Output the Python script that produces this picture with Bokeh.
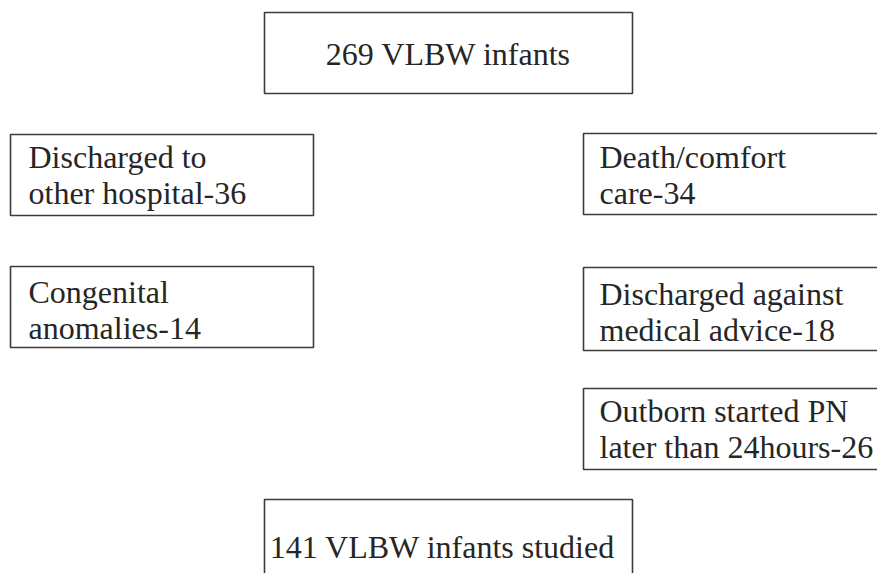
from bokeh.plotting import figure
from bokeh.models import Range1d
from bokeh.core.properties import value
from bokeh.embed import file_html
from bokeh.resources import INLINE

# ---- data ----
total_n = 269
total_label = "VLBW infants"
studied_n = 141
studied_label = "VLBW infants studied"
exclusion_line1 = ["Discharged to", "Congenital", "Death/comfort", "Discharged against", "Outborn started PN"]
exclusion_line2 = ["other hospital", "anomalies", "care", "medical advice", "later than 24hours"]
exclusion_counts = [36, 14, 34, 18, 26]

# ---- layout (page pixel coordinates) ----
main_box = dict(left=264, right=632, top=12, bottom=93)
final_box = dict(left=264, right=632, top=499, bottom=600)
excl_boxes = [
    dict(left=10, right=313, top=134, bottom=215),
    dict(left=10, right=313, top=266, bottom=347),
    dict(left=583, right=900, top=133, bottom=214),
    dict(left=583, right=900, top=267, bottom=350),
    dict(left=583, right=900, top=388, bottom=469),
]
text_pad = [18, 18, 16, 16, 16]
line_gap = 36
baseline_shift = -11
first_baselines = [167, 302, 167, 304, 421]

FONT = value("Liberation Serif")
FSIZE = "32px"
TCOL = "#262626"
LCOL = "#3c3c3c"

W, H = 877, 573
p = figure(width=W, height=H, x_range=Range1d(0, W), y_range=Range1d(H, 0),
           output_backend="svg", toolbar_location=None, min_border=0)
p.axis.visible = False
p.grid.visible = False
p.outline_line_color = None
p.background_fill_color = "white"

boxes = [main_box, final_box] + excl_boxes
p.quad(left=[b["left"] for b in boxes], right=[b["right"] for b in boxes],
       top=[b["top"] for b in boxes], bottom=[b["bottom"] for b in boxes],
       fill_color=None, line_color=LCOL, line_width=1.6)

# centered texts
p.text(x=[(main_box["left"] + main_box["right"]) / 2, (final_box["left"] + final_box["right"]) / 2 - 6],
       y=[64 + baseline_shift, 557 + baseline_shift],
       text=[f"{total_n} {total_label}", f"{studied_n} {studied_label}"],
       text_font=FONT, text_font_size=FSIZE, text_color=TCOL,
       text_align="center", text_baseline="alphabetic")

# exclusion texts
xs, ys, ts = [], [], []
for b, pad, y0, l1, l2, n in zip(excl_boxes, text_pad, first_baselines,
                                 exclusion_line1, exclusion_line2, exclusion_counts):
    xs += [b["left"] + pad, b["left"] + pad]
    ys += [y0 + baseline_shift, y0 + line_gap + baseline_shift]
    ts += [l1, f"{l2}-{n}"]
p.text(x=xs, y=ys, text=ts, text_font=FONT, text_font_size=FSIZE, text_color=TCOL,
       text_align="left", text_baseline="alphabetic")

open("out.html", "w").write(file_html(p, INLINE))
